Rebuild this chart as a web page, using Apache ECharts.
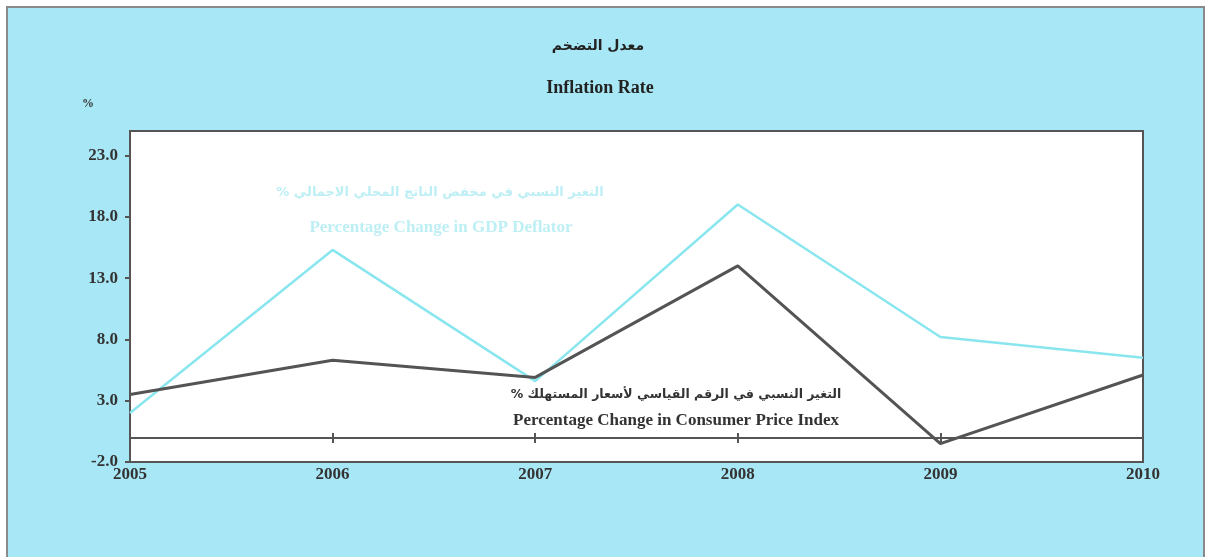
<!DOCTYPE html>
<html>
<head>
<meta charset="utf-8">
<script src="https://cdn.jsdelivr.net/npm/echarts@6/dist/echarts.min.js"></script>
<style>html,body{margin:0;padding:0;background:#fff}#c{width:1208px;height:557px}</style>
</head>
<body>
<div id="c"></div>
<script>
var years = ['2005','2006','2007','2008','2009','2010'];
var cpi = [3.5, 6.3, 4.9, 14.0, -0.5, 5.1];
var gdpDeflator = [2.0, 15.3, 4.6, 19.0, 8.2, 6.5];
var yTicks = [-2, 3, 8, 13, 18, 23];

var titleAr = 'معدل التضخم';
var titleEn = 'Inflation Rate';
var gdpAr = '% التغير النسبي في مخفض الناتج المحلي الاجمالي';
var gdpEn = 'Percentage Change in GDP Deflator';
var cpiAr = '% التغير النسبي في الرقم القياسي لأسعار المستهلك';
var cpiEn = 'Percentage Change in Consumer Price Index';

var serif = '"Liberation Serif", "DejaVu Serif", serif';
var arab = '"DejaVu Sans", sans-serif';
var chart = echarts.init(document.getElementById('c'), null, {renderer: 'canvas'});
chart.setOption({
  animation: false,
  backgroundColor: '#ffffff',
  grid: {left: 130, right: 65, top: 131, bottom: 95, show: true,
         backgroundColor: '#ffffff', borderColor: '#555', borderWidth: 2},
  xAxis: [
    {type: 'category', data: years, boundaryGap: false, position: 'bottom',
     axisLine: {show: false, onZero: false},
     axisTick: {show: false},
     axisLabel: {show: true, margin: 4, color: '#333', fontFamily: serif, fontWeight: 'bold', fontSize: 17},
     splitLine: {show: false}},
    {type: 'category', data: years, boundaryGap: false, position: 'bottom', offset: -29,
     axisLine: {show: false, onZero: false},
     axisTick: {show: true, length: 10, inside: false, lineStyle: {color: '#555', width: 2}},
     axisLabel: {show: false}, splitLine: {show: false}}
  ],
  yAxis: {type: 'value', min: -2, max: 25,
    axisLine: {show: true, lineStyle: {color: '#555', width: 2}},
    axisTick: {show: true, customValues: yTicks, length: 5, lineStyle: {color: '#555', width: 2}},
    axisLabel: {customValues: yTicks, margin: 12, color: '#333', fontFamily: serif, fontWeight: 'bold', fontSize: 17,
      formatter: function (v) { return v.toFixed(1); }},
    splitLine: {show: false}},
  series: [
    {type: 'line', name: 'GDP', data: gdpDeflator, symbol: 'none', xAxisIndex: 0,
     lineStyle: {color: '#8ae6ee', width: 2.5}, z: 3},
    {type: 'line', name: 'CPI', data: cpi, symbol: 'none', xAxisIndex: 0,
     lineStyle: {color: '#545454', width: 3}, z: 4,
     markLine: {silent: true, symbol: 'none', label: {show: false},
       lineStyle: {color: '#555', width: 2, type: 'solid'}, data: [{yAxis: 0}]}}
  ],
  graphic: [
    {type: 'rect', z: -10, silent: true,
     shape: {x: 7, y: 7, width: 1197, height: 560},
     style: {fill: '#a8e7f5', stroke: '#8a8a8a', lineWidth: 2}},
    {type: 'text', x: 598, y: 46, style: {text: titleAr, fill: '#222', font: 'bold 14px ' + arab, align: 'center', verticalAlign: 'middle'}},
    {type: 'text', x: 600, y: 88, style: {text: titleEn, fill: '#222', font: 'bold 18px ' + serif, align: 'center', verticalAlign: 'middle'}},
    {type: 'text', x: 88, y: 104, style: {text: '%', fill: '#333', font: 'bold 12px ' + serif, align: 'center', verticalAlign: 'middle'}},
    {type: 'text', x: 440, y: 193, z: 10, style: {text: gdpAr, fill: '#bdeff4', font: 'bold 13px ' + arab, align: 'center', verticalAlign: 'middle'}},
    {type: 'text', x: 441, y: 228, z: 10, style: {text: gdpEn, fill: '#bdeff4', font: 'bold 17px ' + serif, align: 'center', verticalAlign: 'middle'}},
    {type: 'text', x: 676, y: 395, z: 10, style: {text: cpiAr, fill: '#333', font: 'bold 12.5px ' + arab, align: 'center', verticalAlign: 'middle'}},
    {type: 'text', x: 676, y: 421, z: 10, style: {text: cpiEn, fill: '#333', font: 'bold 17px ' + serif, align: 'center', verticalAlign: 'middle'}}
  ]
});
</script>
</body>
</html>
